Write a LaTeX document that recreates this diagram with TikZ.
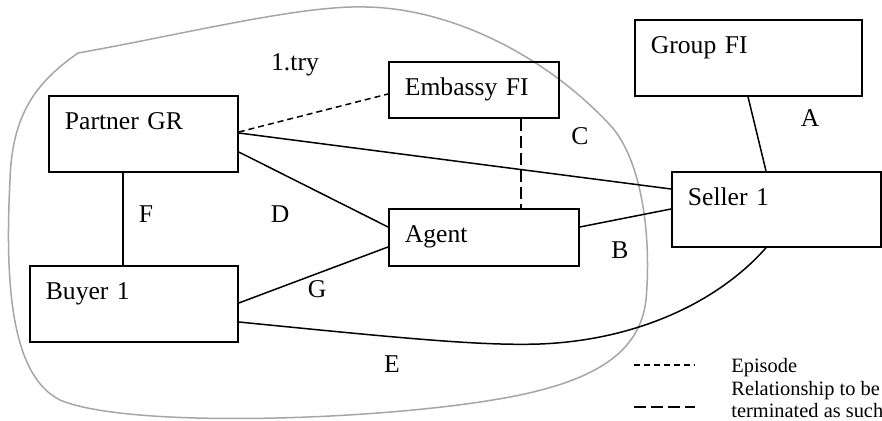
\documentclass[tikz,border=0pt]{standalone}
\usepackage{fontspec}
\setmainfont{Liberation Serif}
\usetikzlibrary{calc}
\begin{document}
\begin{tikzpicture}[x=0.5pt,y=-0.5pt,
  box/.style={draw, line width=0.9pt, anchor=north west, align=left, inner xsep=8pt, inner ysep=0pt, text height=16.75pt, font=\fontsize{12.8}{15}\selectfont},
  rel/.style={line width=0.75pt},
  episode/.style={line width=0.75pt, dash pattern=on 3pt off 2pt},
  term/.style={line width=0.75pt, dash pattern=on 6pt off 2.5pt},
  lbl/.style={anchor=base, inner sep=0pt, font=\fontsize{12.8}{15}\selectfont},
  leg/.style={anchor=base west, inner sep=0pt, font=\fontsize{10.2}{12}\selectfont},
  region/.style={draw=gray!70, line width=0.75pt}
]
\useasboundingbox (0,0) rectangle (882,421);
\fill[white] (0,0) rectangle (882,421);

% region of the first try
\draw[region] (78,53) .. controls (180,35) and (300,5) .. (365,7)
  .. controls (450,8) and (545,55) .. (610,125)
  .. controls (640,157) and (652,230) .. (646,300)
  .. controls (640,350) and (600,378) .. (520,395)
  .. controls (400,420) and (130,430) .. (60,400)
  .. controls (10,375) and (5,280) .. (10,180)
  .. controls (12,110) and (40,80) .. (78,53) -- cycle;

% boxes
\node[box, text width=78.5pt, text depth=21.25pt] (pgr) at (48,95) {Partner GR};
\node[box, text width=69pt,   text depth=11.25pt] (emb) at (388,61) {Embassy FI};
\node[box, text width=97.5pt, text depth=21.25pt] (grp) at (634,19) {Group FI};
\node[box, text width=88.5pt, text depth=20.75pt] (sel) at (671,171) {Seller 1};
\node[box, text width=79pt,   text depth=11.75pt] (ag)  at (388,208) {Agent};
\node[box, text width=88pt,   text depth=21.25pt] (buy) at (29,265) {Buyer 1};

% connectors
\draw[episode] ($(pgr.north east)+(0,37)$) -- ($(emb.north west)+(0,33)$);
\draw[rel] ($(pgr.north east)+(0,38)$) -- ($(sel.north west)+(0,18)$);
\draw[rel] ($(pgr.north east)+(0,57)$) -- ($(ag.north west)+(0,19)$);
\draw[rel] ($(pgr.south west)+(75,0)$) -- ($(buy.north west)+(94,0)$);
\draw[rel] ($(buy.north east)+(0,38)$) -- ($(ag.north west)+(0,39)$);
\draw[rel] ($(buy.north east)+(0,57)$) .. controls (400,338) and (480,346) .. (540,344)
  .. controls (640,340) and (720,300) .. ($(sel.south west)+(95,0)$);
\draw[term] ($(emb.south west)+(133,0)$) -- ($(ag.north west)+(133,0)$);
\draw[rel] ($(ag.north east)+(0,19)$) -- ($(sel.north west)+(0,38)$);
\draw[rel] ($(grp.south west)+(114,0)$) -- ($(sel.north west)+(95,0)$);

% labels
\node[lbl] (ltry) at (295,71) {1.try};
\node[lbl] (lc) at (580,145) {C};
\node[lbl] (la) at (810,127) {A};
\node[lbl] (lf) at (146,223) {F};
\node[lbl] (ld) at (280,223) {D};
\node[lbl] (lg) at (317,298) {G};
\node[lbl] (le) at (392,373) {E};
\node[lbl] (lb) at (620,259) {B};

% legend
\coordinate (e1) at (634,365);
\coordinate (e2) at (695,365);
\coordinate (t1) at (634,407);
\coordinate (t2) at (695,407);
\draw[episode] (e1) -- (e2);
\draw[term] (t1) -- (t2);
\node[leg] (lep) at (731,373) {Episode};
\node[leg] (lr1) at (731,396) {Relationship to be};
\node[leg] (lr2) at (731,418) {terminated as such};
\end{tikzpicture}
\end{document}
